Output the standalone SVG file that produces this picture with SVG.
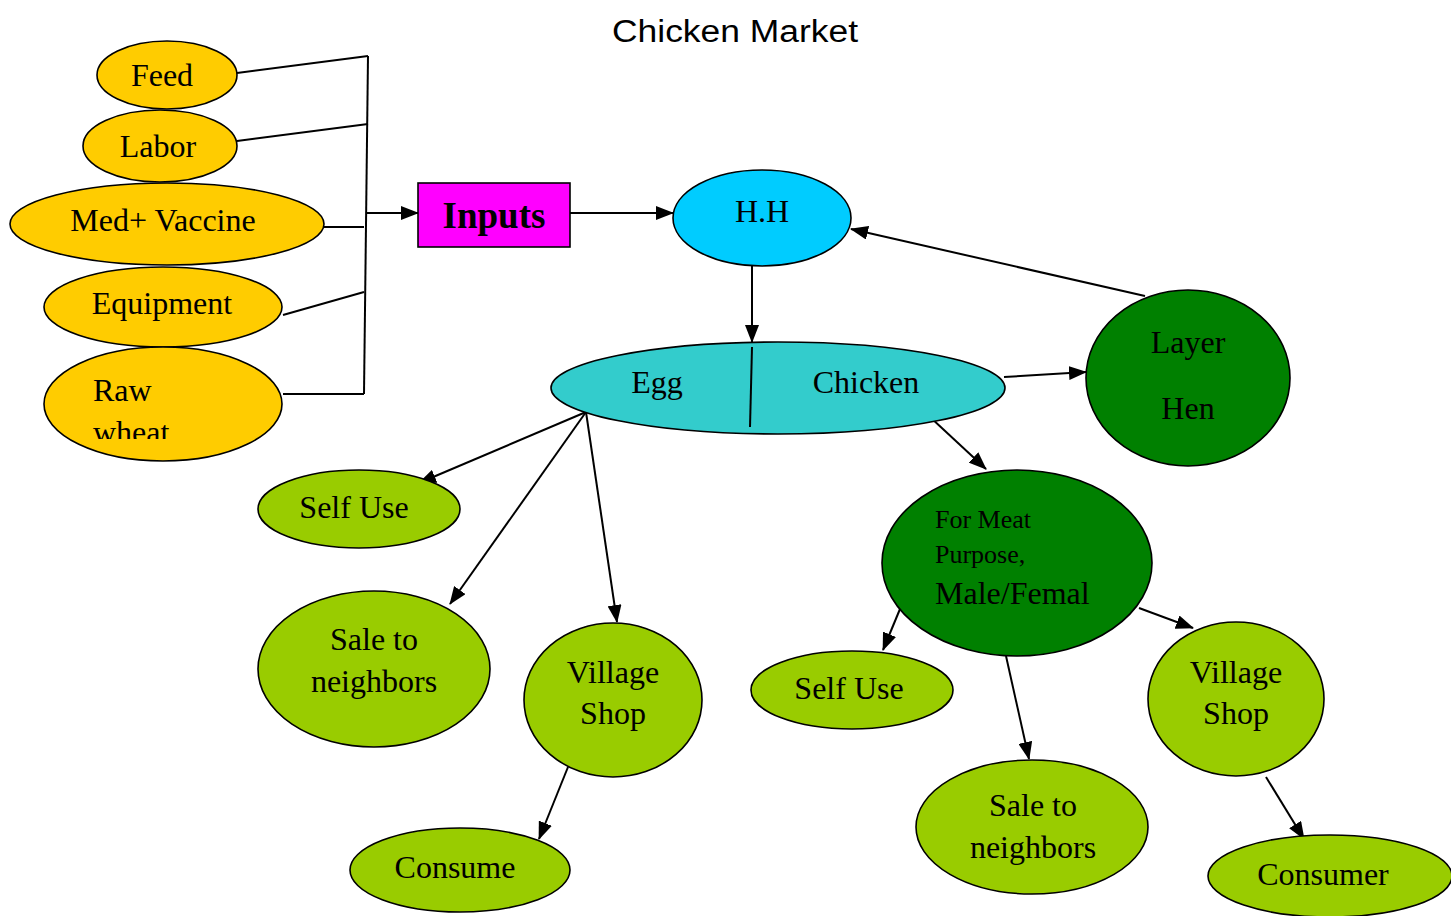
<svg xmlns="http://www.w3.org/2000/svg" width="1451" height="916" viewBox="0 0 1451 916">
  <style>
    .node { stroke: #000; stroke-width: 1.6; }
    .input { fill: #FFCC00; }
    .hh { fill: #00CCFF; }
    .split { fill: #33CCCC; }
    .dark { fill: #008000; }
    .light { fill: #99CC00; }
    .lbl { font-family: "Liberation Serif", "Times New Roman", serif; font-size: 32px; fill: #000; }
    .small { font-size: 26px; }
    .mid { text-anchor: middle; }
    .conn line { stroke: #000; stroke-width: 2; fill: none; }
    .arrow { marker-end: url(#head); }
  </style>
  <defs>
    <marker id="head" markerUnits="userSpaceOnUse" markerWidth="18" markerHeight="14" viewBox="0 0 18 14" refX="17" refY="7" orient="auto">
      <path d="M0,0 L18,7 L0,14 Z" fill="#000"/>
    </marker>
    <clipPath id="wheatClip">
      <rect x="44" y="347" width="240" height="92"/>
    </clipPath>
  </defs>

  <rect width="1451" height="916" fill="#fff"/>

  <text x="735" y="42" text-anchor="middle" font-family="'Liberation Sans', Arial, sans-serif" font-size="31" textLength="246" lengthAdjust="spacingAndGlyphs">Chicken Market</text>

  <!-- connectors -->
  <g id="connectors" class="conn">
    <line x1="237" y1="73" x2="368" y2="56"/>
    <line x1="237" y1="141" x2="368" y2="124"/>
    <line x1="324" y1="227" x2="364" y2="227"/>
    <line x1="283" y1="315" x2="364" y2="292"/>
    <line x1="283" y1="394" x2="364" y2="394"/>
    <line x1="368" y1="56" x2="364" y2="394"/>
    <line class="arrow" x1="367" y1="213" x2="418" y2="213"/>
    <line class="arrow" x1="570" y1="213" x2="673" y2="213"/>
    <line class="arrow" x1="752" y1="266" x2="752" y2="342"/>
    <line class="arrow" x1="1145" y1="296" x2="851" y2="229"/>
    <line class="arrow" x1="1004" y1="377" x2="1086" y2="372"/>
    <line class="arrow" x1="930" y1="417" x2="986" y2="469"/>
    <line class="arrow" x1="586" y1="412" x2="419" y2="483"/>
    <line class="arrow" x1="586" y1="412" x2="450" y2="604"/>
    <line class="arrow" x1="586" y1="412" x2="617" y2="622"/>
    <line class="arrow" x1="568" y1="767" x2="539" y2="839"/>
    <line class="arrow" x1="900" y1="609" x2="883" y2="650"/>
    <line class="arrow" x1="1006" y1="656" x2="1029" y2="759"/>
    <line class="arrow" x1="1139" y1="608" x2="1193" y2="628"/>
    <line class="arrow" x1="1266" y1="777" x2="1304" y2="839"/>
  </g>

  <!-- supply inputs -->
  <g id="feed">
    <ellipse class="node input" cx="167" cy="75" rx="70" ry="34"/>
    <text class="lbl mid" x="162" y="86">Feed</text>
  </g>
  <g id="labor">
    <ellipse class="node input" cx="160" cy="146" rx="77" ry="36"/>
    <text class="lbl mid" x="158" y="157">Labor</text>
  </g>
  <g id="med-vaccine">
    <ellipse class="node input" cx="167" cy="224" rx="157" ry="41"/>
    <text class="lbl mid" x="163" y="231">Med+ Vaccine</text>
  </g>
  <g id="equipment">
    <ellipse class="node input" cx="163" cy="307" rx="119" ry="40"/>
    <text class="lbl mid" x="162" y="314">Equipment</text>
  </g>
  <g id="raw-wheat">
    <ellipse class="node input" cx="163" cy="404" rx="119" ry="57"/>
    <text class="lbl" x="93" y="401">Raw</text>
    <text class="lbl" x="93" y="443" clip-path="url(#wheatClip)">wheat</text>
  </g>

  <g id="inputs">
    <rect x="418" y="183" width="152" height="64" fill="#FF00FF" stroke="#000" stroke-width="1.6"/>
    <text x="494" y="228" text-anchor="middle" font-family="'Liberation Serif', 'Times New Roman', serif" font-size="37" font-weight="bold">Inputs</text>
  </g>

  <g id="household">
    <ellipse class="node hh" cx="762" cy="218" rx="89" ry="48"/>
    <text class="lbl mid" x="762" y="222">H.H</text>
  </g>

  <g id="egg-chicken">
    <ellipse class="node split" cx="778" cy="388" rx="227" ry="46"/>
    <line x1="752" y1="347" x2="750" y2="427" stroke="#000" stroke-width="2"/>
    <text class="lbl mid" x="657" y="393">Egg</text>
    <text class="lbl mid" x="866" y="393">Chicken</text>
  </g>

  <g id="layer-hen">
    <ellipse class="node dark" cx="1188" cy="378" rx="102" ry="88"/>
    <text class="lbl mid" x="1188" y="353">Layer</text>
    <text class="lbl mid" x="1188" y="419">Hen</text>
  </g>

  <g id="meat-purpose">
    <ellipse class="node dark" cx="1017" cy="563" rx="135" ry="93"/>
    <text class="lbl small" x="935" y="528">For Meat</text>
    <text class="lbl small" x="935" y="563">Purpose,</text>
    <text class="lbl" x="935" y="604">Male/Femal</text>
  </g>

  <!-- egg outlets -->
  <g id="egg-self-use">
    <ellipse class="node light" cx="359" cy="509" rx="101" ry="39"/>
    <text class="lbl mid" x="354" y="518">Self Use</text>
  </g>
  <g id="egg-sale-neighbors">
    <ellipse class="node light" cx="374" cy="669" rx="116" ry="78"/>
    <text class="lbl mid" x="374" y="650">Sale to</text>
    <text class="lbl mid" x="374" y="692">neighbors</text>
  </g>
  <g id="egg-village-shop">
    <ellipse class="node light" cx="613" cy="700" rx="89" ry="77"/>
    <text class="lbl mid" x="613" y="683">Village</text>
    <text class="lbl mid" x="613" y="724">Shop</text>
  </g>
  <g id="egg-consume">
    <ellipse class="node light" cx="460" cy="870" rx="110" ry="42"/>
    <text class="lbl mid" x="455" y="878">Consume</text>
  </g>

  <!-- meat outlets -->
  <g id="meat-self-use">
    <ellipse class="node light" cx="852" cy="690" rx="101" ry="39"/>
    <text class="lbl mid" x="849" y="699">Self Use</text>
  </g>
  <g id="meat-sale-neighbors">
    <ellipse class="node light" cx="1032" cy="827" rx="116" ry="67"/>
    <text class="lbl mid" x="1033" y="816">Sale to</text>
    <text class="lbl mid" x="1033" y="858">neighbors</text>
  </g>
  <g id="meat-village-shop">
    <ellipse class="node light" cx="1236" cy="699" rx="88" ry="77"/>
    <text class="lbl mid" x="1236" y="683">Village</text>
    <text class="lbl mid" x="1236" y="724">Shop</text>
  </g>
  <g id="meat-consumer">
    <ellipse class="node light" cx="1330" cy="876" rx="122" ry="41"/>
    <text class="lbl mid" x="1323" y="885">Consumer</text>
  </g>
</svg>
